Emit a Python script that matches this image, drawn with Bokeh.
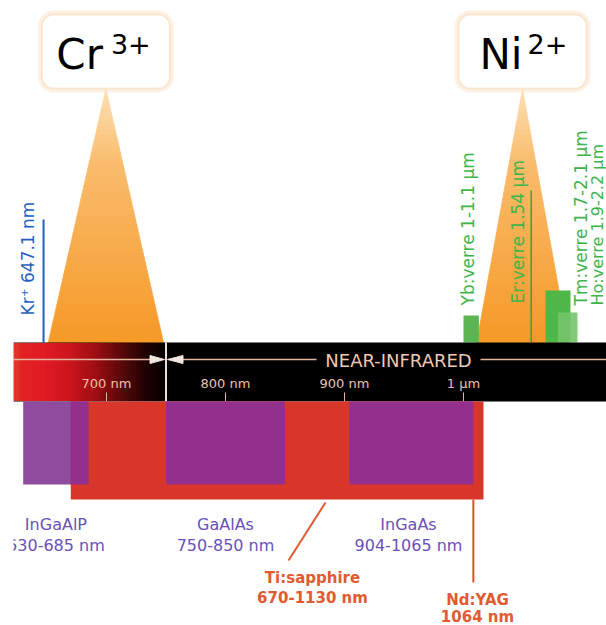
import numpy as np
from bokeh.plotting import figure
from bokeh.models import Range1d, BoxAnnotation
from bokeh.core.properties import value
from bokeh.embed import file_html
from bokeh.resources import INLINE

# ---------------- data ----------------
tick_nm = [700, 800, 900, 1000]
tick_labels = ["700 nm", "800 nm", "900 nm", "1 µm"]
vis_nir_nm = 750
band_label = "NEAR-INFRARED"

diode_names = ["InGaAlP", "GaAlAs", "InGaAs"]
diode_lo = [630, 750, 904]
diode_hi = [685, 850, 1065]
diode_ranges = ["630-685 nm", "750-850 nm", "904-1065 nm"]

tisa_lo, tisa_hi = 670, 1130
tisa_labels = ["Ti:sapphire", "670-1130 nm"]
ndyag_nm = 1064
ndyag_labels = ["Nd:YAG", "1064 nm"]
kr_nm = 647.1
kr_label = "Kr\u207a 647.1 nm"

ion_symbols = ["Cr", "Ni"]
ion_charges = ["3+", "2+"]
ion_lo = [651, 1085]
ion_hi = [748, 2068]

glass_names = ["Yb:verre", "Er:verre", "Tm:verre", "Ho:verre"]
glass_lo = [1000, 1540, 1700, 1900]
glass_hi = [1100, 1540, 2100, 2200]
glass_texts = ["1-1.1 µm", "1.54 µm", "1.7-2.1 µm", "1.9-2.2 µm"]

# ------------- broken wavelength axis of the diagram (nm -> px) -------------
AX_NM = [600, 700, 1000, 1130, 1540, 1700, 2100, 2200]
AX_PX = [-13, 106, 463, 483, 530.7, 545, 570, 577]


def X(nm):
    return float(np.interp(nm, AX_NM, AX_PX))


# ------------- layout / style -------------
FONT = value("DejaVu Sans")
BAND_TOP, BAND_BOT = 342, 401
ARROW_Y = 359
DIODE_BOT, TISA_BOT = 484, 499
BOX_TOP, BOX_BOT, BOX_W = 14, 88, 128
PEACH = "#e2b4a0"
PURPLE_TXT = "#6a50b8"
RED_TXT = "#e05a32"
GREEN_TXT = "#3db54a"
glass_bar_top = [315, None, 290, 312]
glass_line_top = 190
glass_colors = ["#5cb452", "#3aa838", "#4db848", "#74c46a"]
glass_label_x = [467, 517, 580, 597]
glass_label_bottom = [305, 303, 305, 305]
ion_main_shift = [-3, 0]

p = figure(width=606, height=625, x_range=Range1d(0, 606), y_range=Range1d(625, 0),
           output_backend="svg", toolbar_location=None, min_border=0)
p.axis.visible = False
p.grid.visible = False
p.outline_line_color = None
p.background_fill_color = "white"


def txt(x, y, s, size, color, bold=False, angle=0.0, align="center", baseline="middle"):
    p.text(x=[x], y=[y], text=[s], text_font=FONT, text_font_size=value(f"{size}px"),
           text_font_style=value("bold" if bold else "normal"), text_color=color,
           angle=angle, text_align=align, text_baseline=baseline)


def lerp_color(t, stops_t, r, g, b):
    return "#%02x%02x%02x" % (int(np.interp(t, stops_t, r)), int(np.interp(t, stops_t, g)),
                              int(np.interp(t, stops_t, b)))


# ---- ion absorption triangles with boxes ----
N = 60
for k, (sym, chg, lo, hi) in enumerate(zip(ion_symbols, ion_charges, ion_lo, ion_hi)):
    xl, xr = X(lo), X(hi)
    cx = (xl + xr) / 2
    xs, ys, cols = [], [], []
    for i in range(N):
        t0, t1 = i / N, (i + 1) / N
        y0 = BOX_BOT + t0 * (BAND_TOP - BOX_BOT)
        y1 = BOX_BOT + t1 * (BAND_TOP - BOX_BOT) + 0.6
        xs.append([cx + t0 * (xl - cx), cx + t0 * (xr - cx), cx + t1 * (xr - cx), cx + t1 * (xl - cx)])
        ys.append([y0, y0, y1, y1])
        cols.append(lerp_color((t0 + t1) / 2, [0, 0.3, 1], [253, 250, 246], [224, 188, 154], [180, 108, 40]))
    p.patches(xs, ys, fill_color=cols, line_color=cols, line_width=0.6)

    halo = BoxAnnotation(left=cx - BOX_W / 2 - 4, right=cx + BOX_W / 2 + 4, top=BOX_TOP - 4,
                         bottom=BOX_BOT + 4, fill_color="#fdeedf", fill_alpha=0.8, line_color=None,
                         border_radius=16, level="underlay")
    box = BoxAnnotation(left=cx - BOX_W / 2, right=cx + BOX_W / 2, top=BOX_TOP, bottom=BOX_BOT,
                        fill_color="white", fill_alpha=1.0, line_color="#f7bd80", line_width=2,
                        border_radius=12, level="underlay")
    p.add_layout(halo)
    p.add_layout(box)
    txt(cx + ion_main_shift[k], 54, sym, 42, "black", align="right")
    txt(cx + 5, 43, chg, 27, "black", align="left")

# ---- glass fibre lasers ----
for i, (nm_lo, nm_hi) in enumerate(zip(glass_lo, glass_hi)):
    if glass_bar_top[i] is None:
        p.segment(x0=[X(nm_lo)], y0=[glass_line_top], x1=[X(nm_lo)], y1=[BAND_TOP],
                  line_color=glass_colors[i], line_width=1.6)
    else:
        p.quad(left=[X(nm_lo)], right=[X(nm_hi)], top=[glass_bar_top[i]], bottom=[BAND_TOP],
               fill_color=glass_colors[i], fill_alpha=0.9 if i == 3 else 1.0, line_color=None)
    txt(glass_label_x[i], glass_label_bottom[i], f"{glass_names[i]}  {glass_texts[i]}",
        16 if i == 3 else 17, GREEN_TXT, angle=np.pi / 2, align="left")

# ---- Kr+ line ----
p.segment(x0=[X(kr_nm)], y0=[219], x1=[X(kr_nm)], y1=[BAND_TOP], line_color="#1f5fbf", line_width=2)
txt(27, 315, kr_label, 17, "#1f5fbf", angle=np.pi / 2, align="left")

# ---- spectrum band ----
p.quad(left=[13], right=[606], top=[BAND_TOP], bottom=[BAND_BOT], fill_color="black", line_color=None)
xv = X(vis_nir_nm)
M = 80
edges = np.linspace(13, xv, M + 1)
gcols = [lerp_color((a + b) / 2, [13, 22, 45, 70, 95, 120, 145, 164.5],
                    [222, 228, 226, 205, 160, 95, 35, 8], [65, 35, 28, 22, 16, 10, 4, 0],
                    [42, 36, 36, 30, 20, 12, 5, 0]) for a, b in zip(edges[:-1], edges[1:])]
p.quad(left=edges[:-1], right=edges[1:], top=BAND_TOP + 1, bottom=BAND_BOT - 1,
       fill_color=gcols, line_color=gcols, line_width=1)
p.segment(x0=[xv], y0=[BAND_TOP], x1=[xv], y1=[BAND_BOT], line_color="#eddcd4", line_width=2)

# arrows and band label
p.segment(x0=[13, xv + 17, 480], y0=[ARROW_Y] * 3, x1=[xv - 16, 316, 606], y1=[ARROW_Y] * 3,
          line_color=PEACH, line_width=1.5)
p.patches([[xv - 1.5, xv - 16, xv - 16], [xv + 1.5, xv + 17, xv + 17]],
          [[ARROW_Y, ARROW_Y - 4, ARROW_Y + 4], [ARROW_Y, ARROW_Y - 4, ARROW_Y + 4]],
          fill_color="#f2e6e0", line_color="#f2e6e0")
txt(398, ARROW_Y + 1, band_label, 18, "#f0c8b4")

# ticks
tx = [X(t) for t in tick_nm]
p.segment(x0=tx, y0=[392] * 4, x1=tx, y1=[BAND_BOT] * 4, line_color=PEACH, line_width=1)
for x, lab in zip(tx, tick_labels):
    txt(x, 383, lab, 13, "#eec0ac")

# ---- lasers below the band ----
p.quad(left=[X(diode_lo[0])], right=[X(diode_hi[0])], top=[BAND_BOT], bottom=[DIODE_BOT],
       fill_color="#8f4c9f", line_color=None)
p.quad(left=[X(tisa_lo)], right=[X(tisa_hi)], top=[BAND_BOT], bottom=[TISA_BOT],
       fill_color="#d8352b", line_color=None)
for lo, hi in zip(diode_lo, diode_hi):
    a, b = max(lo, tisa_lo), min(hi, tisa_hi)
    p.quad(left=[X(a)], right=[X(b)], top=[BAND_BOT], bottom=[DIODE_BOT],
           fill_color="#93308e", line_color=None)

for name, rng, lo, hi in zip(diode_names, diode_ranges, diode_lo, diode_hi):
    cx = (X(lo) + X(hi)) / 2
    if name == "InGaAs":
        cx = 408
    txt(cx, 524, name, 16, PURPLE_TXT)
    txt(cx, 545, rng, 16, PURPLE_TXT)

# Ti:sapphire leader + label
p.segment(x0=[325], y0=[502], x1=[288], y1=[560], line_color=RED_TXT, line_width=2)
txt(312, 577, tisa_labels[0], 15, RED_TXT, bold=True)
txt(312, 597, tisa_labels[1], 15, RED_TXT, bold=True)

# Nd:YAG line + label
p.segment(x0=[X(ndyag_nm)], y0=[TISA_BOT], x1=[X(ndyag_nm)], y1=[582], line_color="#e0502a", line_width=2)
txt(477, 599, ndyag_labels[0], 15, RED_TXT, bold=True)
txt(477, 616, ndyag_labels[1], 15, RED_TXT, bold=True)

# crop edge of the original picture
p.quad(left=[0], right=[13], top=[0], bottom=[640], fill_color="white", line_color=None)

open("out.html", "w").write(file_html(p, INLINE))
